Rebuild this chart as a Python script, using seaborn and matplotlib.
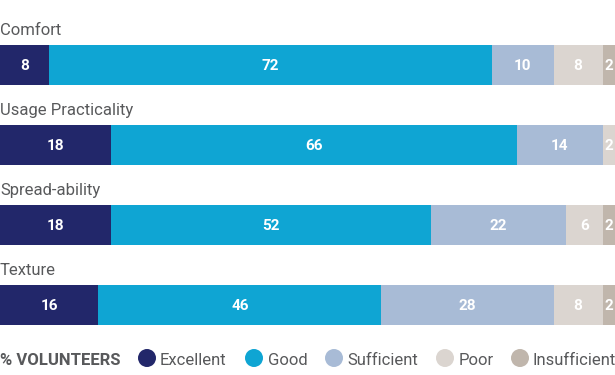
import matplotlib
matplotlib.use("Agg")
import matplotlib.pyplot as plt
from matplotlib.patches import Circle
import seaborn as sns
import pandas as pd
import numpy as np

categories = ["Comfort", "Usage Practicality", "Spread-ability", "Texture"]
levels = ["Excellent", "Good", "Sufficient", "Poor", "Insufficient"]
excellent = [8, 18, 18, 16]
good = [72, 66, 52, 46]
sufficient = [10, 14, 22, 28]
poor = [8, 2, 6, 8]
insufficient = [2, 0, 2, 2]
colors = ["#22276a", "#0fa5d3", "#a8bbd6", "#dbd5d0", "#c0b6ac"]
legend_title = "% VOLUNTEERS"

sns.set_theme(style="white")
FAM = ["Roboto", "DejaVu Sans"]
plt.rcParams["font.family"] = FAM
TXT = "#58595b"

W, H = 615, 375
fig = plt.figure(figsize=(6.15, 3.75), dpi=100)
ax = fig.add_axes([0, 0, 1, 1])

vals = np.array([excellent, good, sufficient, poor, insufficient])
cum = np.cumsum(vals, axis=0)
for i in range(len(levels) - 1, -1, -1):
    df = pd.DataFrame({"category": categories, "cum": cum[i]})
    sns.barplot(data=df, x="cum", y="category", orient="h", order=categories,
                color=colors[i], width=0.5, saturation=1, ax=ax,
                edgecolor="none", linewidth=0, errorbar=None)

ax.set_xlim(0, 100)
ax.set_ylim(3.875, -0.8125)
ax.set_axis_off()

for j, cat in enumerate(categories):
    left = 0
    for i in range(len(levels)):
        v = vals[i, j]
        if v > 0:
            ax.text(left + v / 2, j + 0.067, str(v), ha="center", va="baseline",
                    color="white", fontsize=11, fontweight="bold")
        left += v
    ax.text(0, j - 0.375, cat, ha="left", va="baseline", fontsize=12, color=TXT)

# legend
lax = fig.add_axes([0, 0, 1, 1])
lax.set_xlim(0, W)
lax.set_ylim(H, 0)
lax.set_axis_off()
base = 365
lax.text(0, base, legend_title, fontsize=12, fontweight="bold", color=TXT, va="baseline")
circle_x = [147, 254, 334, 445, 520]
text_x = [160, 268, 347, 459, 533]
for lvl, c, cx, tx in zip(levels, colors, circle_x, text_x):
    lax.add_patch(Circle((cx, 358), 9, color=c, lw=0))
    lax.text(tx, base, lvl, fontsize=12, color=TXT, va="baseline")

fig.savefig("out.png", dpi=100)
